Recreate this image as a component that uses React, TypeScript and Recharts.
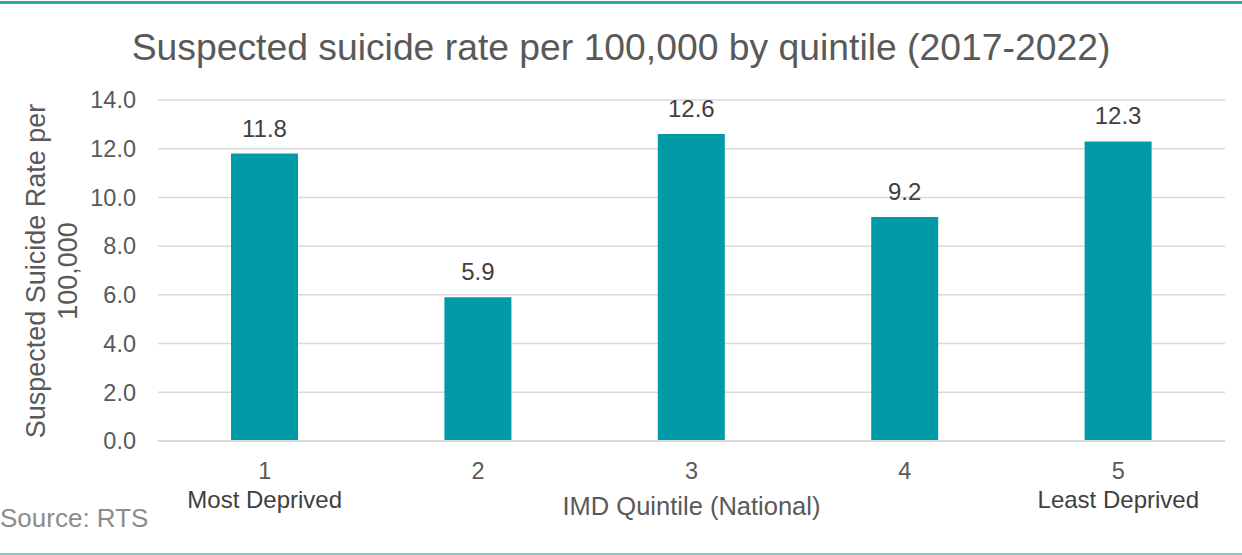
import { BarChart, Bar, CartesianGrid, XAxis, YAxis, LabelList } from 'recharts'

const quintiles = ['1', '2', '3', '4', '5']
const quintileNotes = ['Most Deprived', '', '', '', 'Least Deprived']
const rates = [11.8, 5.9, 12.6, 9.2, 12.3]
const yTicks = [0, 2, 4, 6, 8, 10, 12, 14]

const data = quintiles.map((q, i) => ({ quintile: q, note: quintileNotes[i], rate: rates[i] }))

const FONT = '"Liberation Sans", Arial, sans-serif'
const TEAL = '#009ba6'

function QuintileTick(props: any) {
    const { x, y, payload, index } = props
    const note = quintileNotes[index]
    return (
        <g>
            <text x={x} y={y + 38} textAnchor="middle" fontSize={23.5} fill="#595959" fontFamily={FONT}>
                {payload.value}
            </text>
            {note && (
                <text x={x} y={y + 67} textAnchor="middle" fontSize={24} fill="#404040" fontFamily={FONT}>
                    {note}
                </text>
            )}
        </g>
    )
}

function RateLabel(props: any) {
    const { x, y, width, value } = props
    return (
        <text x={x + width / 2} y={y - 17} textAnchor="middle" fontSize={24} fill="#404040" fontFamily={FONT}>
            {Number(value).toFixed(1)}
        </text>
    )
}

function YTitle() {
    return (
        <text transform="translate(36, 271) rotate(-90)" textAnchor="middle" fontSize={27} fill="#595959" fontFamily={FONT}>
            <tspan x={0} dy="0.35em">Suspected Suicide Rate per</tspan>
            <tspan x={0} dy={32}>100,000</tspan>
        </text>
    )
}

function XTitle(props: any) {
    const { viewBox } = props
    return (
        <text x={viewBox.x + viewBox.width / 2} y={viewBox.y + 74} textAnchor="middle" fontSize={25.5} fill="#595959" fontFamily={FONT}>
            IMD Quintile (National)
        </text>
    )
}

export default function App() {
    return (
        <div style={{ position: 'absolute', left: 0, top: 0, width: 1242, height: 555, background: '#fff', fontFamily: FONT }}>
            <div style={{ position: 'absolute', left: 0, top: 1, width: 1242, height: 3, background: '#17a0aa', opacity: 0.9 }} />
            <div style={{ position: 'absolute', left: 0, top: 553, width: 1242, height: 2, background: '#7ccbcb' }} />
            <div style={{ position: 'absolute', left: 0, top: 25, width: 1242, textAlign: 'center', fontSize: 37.3, color: '#595959', lineHeight: '44px' }}>
                Suspected suicide rate per 100,000 by quintile (2017-2022)
            </div>
            <div style={{ position: 'absolute', left: 0, top: 503, fontSize: 26, color: '#8c8c8c', lineHeight: '30px' }}>
                Source: RTS
            </div>
            <BarChart
                width={1242}
                height={555}
                data={data}
                margin={{ top: 100, right: 17, left: 0, bottom: 0 }}
                barSize={67}
                style={{ position: 'absolute', left: 0, top: 0 }}
            >
                <CartesianGrid vertical={false} stroke="#d9d9d9" strokeWidth={1.5} />
                <XAxis
                    dataKey="quintile"
                    height={114}
                    axisLine={{ stroke: '#d9d9d9', strokeWidth: 2 }}
                    tickLine={false}
                    tickSize={0}
                    tickMargin={0}
                    tick={<QuintileTick />}
                    interval={0}
                    label={<XTitle />}
                />
                <YAxis
                    width={158}
                    domain={[0, 14]}
                    ticks={yTicks}
                    axisLine={false}
                    tickLine={false}
                    tickSize={0}
                    tickMargin={22}
                    tickFormatter={(v: number) => v.toFixed(1)}
                    tick={{ fontSize: 23.5, fill: '#595959', fontFamily: FONT }}
                    label={<YTitle />}
                />
                <Bar dataKey="rate" fill={TEAL} isAnimationActive={false}>
                    <LabelList dataKey="rate" content={<RateLabel />} />
                </Bar>
            </BarChart>
        </div>
    )
}
